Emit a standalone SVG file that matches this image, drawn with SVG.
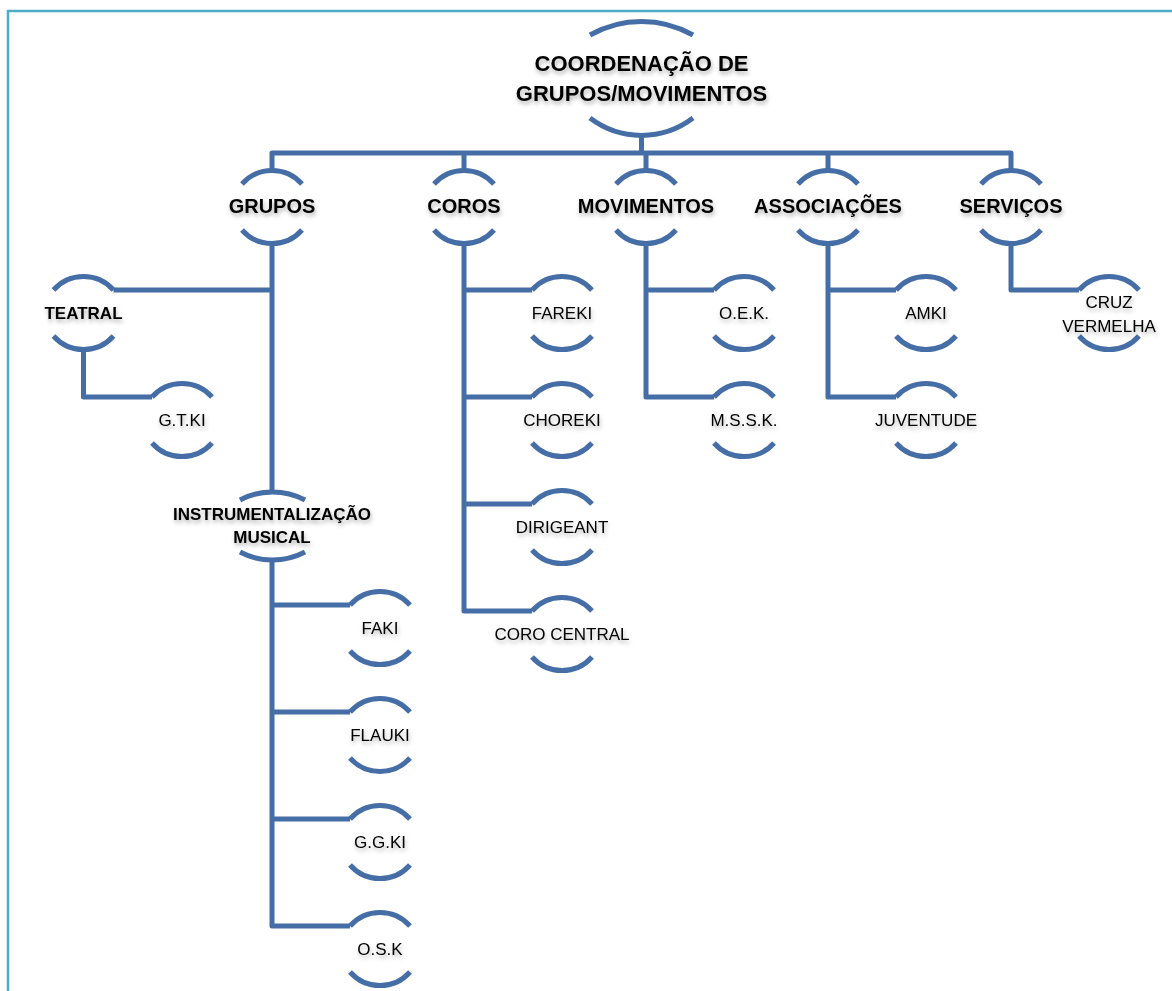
<svg xmlns="http://www.w3.org/2000/svg" xmlns:xlink="http://www.w3.org/1999/xlink" width="1172" height="991" viewBox="0 0 1172 991">
<style>
.ln{fill:none;stroke:#466ea6;stroke-width:5;stroke-linejoin:round}
.arc{fill:none;stroke:#466ea6;stroke-width:5}
.t{font-family:"Liberation Sans",Arial,sans-serif;fill:#000;text-anchor:middle;filter:url(#sh)}
.b1{font-size:22px;font-weight:bold}
.b2{font-size:20px;font-weight:bold}
.b3{font-size:17px;font-weight:bold}
.r{font-size:17px}
</style>
<defs>
<filter id="sh" x="-20%" y="-50%" width="140%" height="200%">
<feDropShadow dx="1" dy="3" stdDeviation="2" flood-color="#000" flood-opacity="0.3"/>
</filter>
<g id="node">
<path class="arc" d="M-30,-29 A40 40 0 0 1 30,-29"/>
<path class="arc" d="M-30,17 A40 40 0 0 0 30,17"/>
</g>
</defs>
<rect width="1172" height="991" fill="#fff"/>
<path d="M8,1000 V11 H1180" fill="none" stroke="#4bacc6" stroke-width="2.5"/>

<g id="connectors">
<path class="ln" d="M641.5,136 V153"/>
<path class="ln" d="M272,169 V153 H1011 V169"/>
<path class="ln" d="M464,153 V169 M646,153 V169 M828,153 V169"/>
<path class="ln" d="M272,243 V493"/>
<path class="ln" d="M113.5,290 H272"/>
<path class="ln" d="M83.5,349 V397 H152"/>
<path class="ln" d="M272,559 V926 H350 M272,605 H350 M272,712 H350 M272,819 H350"/>
<path class="ln" d="M464,243 V611 H532 M464,290 H532 M464,397 H532 M464,504 H532"/>
<path class="ln" d="M646,243 V397 H714 M646,290 H714"/>
<path class="ln" d="M828,243 V397 H896 M828,290 H896"/>
<path class="ln" d="M1011,243 V290 H1079"/>
</g>

<g id="coordenacao">
<path class="arc" d="M590,35 A105 105 0 0 1 693,35"/>
<path class="arc" d="M590,118 A85 85 0 0 0 693,118"/>
<text class="t b1" x="641.5" y="71">COORDENAÇÃO DE</text>
<text class="t b1" x="641.5" y="101">GRUPOS/MOVIMENTOS</text>
</g>

<g id="grupos"><use xlink:href="#node" x="272" y="213"/><text class="t b2" x="272" y="213">GRUPOS</text></g>
<g id="coros"><use xlink:href="#node" x="464" y="213"/><text class="t b2" x="464" y="213">COROS</text></g>
<g id="movimentos"><use xlink:href="#node" x="646" y="213"/><text class="t b2" x="646" y="213">MOVIMENTOS</text></g>
<g id="associacoes"><use xlink:href="#node" x="828" y="213"/><text class="t b2" x="828" y="213">ASSOCIAÇÕES</text></g>
<g id="servicos"><use xlink:href="#node" x="1011" y="213"/><text class="t b2" x="1011" y="213">SERVIÇOS</text></g>

<g id="teatral"><use xlink:href="#node" x="83.5" y="319"/><text class="t b3" x="83.5" y="319">TEATRAL</text></g>
<g id="gtki"><use xlink:href="#node" x="182" y="426"/><text class="t r" x="182" y="426">G.T.KI</text></g>

<g id="instrumentalizacao">
<path class="arc" d="M240,500 A70 70 0 0 1 305,500"/>
<path class="arc" d="M240,552 A70 70 0 0 0 305,552"/>
<text class="t b3" x="272" y="520">INSTRUMENTALIZAÇÃO</text>
<text class="t b3" x="272" y="543">MUSICAL</text>
</g>
<g id="faki"><use xlink:href="#node" x="380" y="634"/><text class="t r" x="380" y="634">FAKI</text></g>
<g id="flauki"><use xlink:href="#node" x="380" y="741"/><text class="t r" x="380" y="741">FLAUKI</text></g>
<g id="ggki"><use xlink:href="#node" x="380" y="848"/><text class="t r" x="380" y="848">G.G.KI</text></g>
<g id="osk"><use xlink:href="#node" x="380" y="955"/><text class="t r" x="380" y="955">O.S.K</text></g>

<g id="fareki"><use xlink:href="#node" x="562" y="319"/><text class="t r" x="562" y="319">FAREKI</text></g>
<g id="choreki"><use xlink:href="#node" x="562" y="426"/><text class="t r" x="562" y="426">CHOREKI</text></g>
<g id="dirigeant"><use xlink:href="#node" x="562" y="533"/><text class="t r" x="562" y="533">DIRIGEANT</text></g>
<g id="corocentral"><use xlink:href="#node" x="562" y="640"/><text class="t r" x="562" y="640">CORO CENTRAL</text></g>

<g id="oek"><use xlink:href="#node" x="744" y="319"/><text class="t r" x="744" y="319">O.E.K.</text></g>
<g id="mssk"><use xlink:href="#node" x="744" y="426"/><text class="t r" x="744" y="426">M.S.S.K.</text></g>

<g id="amki"><use xlink:href="#node" x="926" y="319"/><text class="t r" x="926" y="319">AMKI</text></g>
<g id="juventude"><use xlink:href="#node" x="926" y="426"/><text class="t r" x="926" y="426">JUVENTUDE</text></g>

<g id="cruzvermelha"><use xlink:href="#node" x="1109" y="319"/>
<text class="t r" x="1109" y="308">CRUZ</text>
<text class="t r" x="1109" y="332">VERMELHA</text></g>
</svg>
